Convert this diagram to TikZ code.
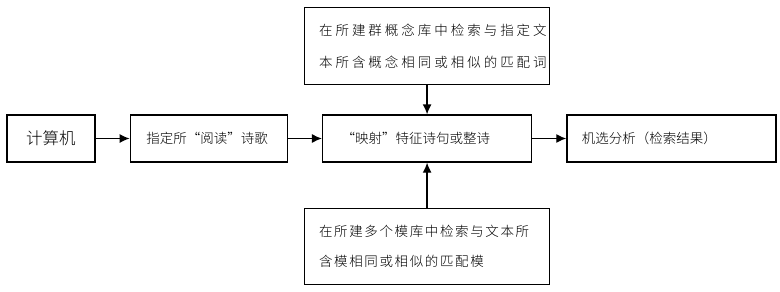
\documentclass[tikz,border=0pt]{standalone}
\usepackage{fontspec}
\setmainfont{Noto Sans CJK SC}[UprightFont=* Light]
\newfontfamily\cjkwide{Noto Sans CJK SC}[UprightFont=* Light, LetterSpace=22]
\newfontfamily\cjkmid{Noto Sans CJK SC}[UprightFont=* Light, LetterSpace=12]
\usetikzlibrary{arrows.meta, positioning}

\begin{document}
\begin{tikzpicture}[
            x=1pt, y=1pt,
            node distance = 34pt,
            semithick
        ]

        \tikzstyle{box}=[
            draw,
            line width=1.3pt,
            shape=rectangle,
            minimum height=47pt,
            inner ysep=0pt,
            font=\fontsize{13.5}{16}\selectfont
        ]
        \tikzstyle{flow}=[
            line width=1.3pt,
            -{Latex[length=10pt, width=9pt]}
        ]

        \useasboundingbox (0,0) rectangle (780,-292);

        % main row
        \node[box, minimum width=88pt, font=\fontsize{16.5}{20}\selectfont] (comp) at (51,-138.5) {计算机};
        \node[box, text width=125pt, inner xsep=16pt, align=left] (read) [right=of comp] {指定所“阅读”诗歌};
        \node[box, text width=171pt, inner xsep=19pt, align=left] (map) [right=of read] {“映射”特征诗句或整诗};
        \node[box, text width=179pt, inner xsep=15pt, align=left] (res) [right=of map] {机选分析（检索结果）};

        % search boxes
        \node[box, text width=216pt, inner xsep=14.5pt, minimum height=77pt, align=left,
              font=\fontsize{13.5}{32}\cjkwide] (con) [above=29pt of map]
              {在所建群概念库中检索与指定文\\本所含概念相同或相似的匹配词};
        \node[box, text width=216pt, inner xsep=14.5pt, minimum height=76pt, align=left,
              font=\fontsize{13.5}{30}\cjkmid] (mod) [below=45pt of map]
              {在所建多个模库中检索与文本所\\含模相同或相似的匹配模};

        \path[flow] (comp) edge node {} (read);
        \path[flow] (read) edge node {} (map);
        \path[flow] (map) edge node {} (res);
        \path[flow] (con) edge node {} (map);
        \path[flow] (mod) edge node {} (map);

    \end{tikzpicture}
\end{document}
